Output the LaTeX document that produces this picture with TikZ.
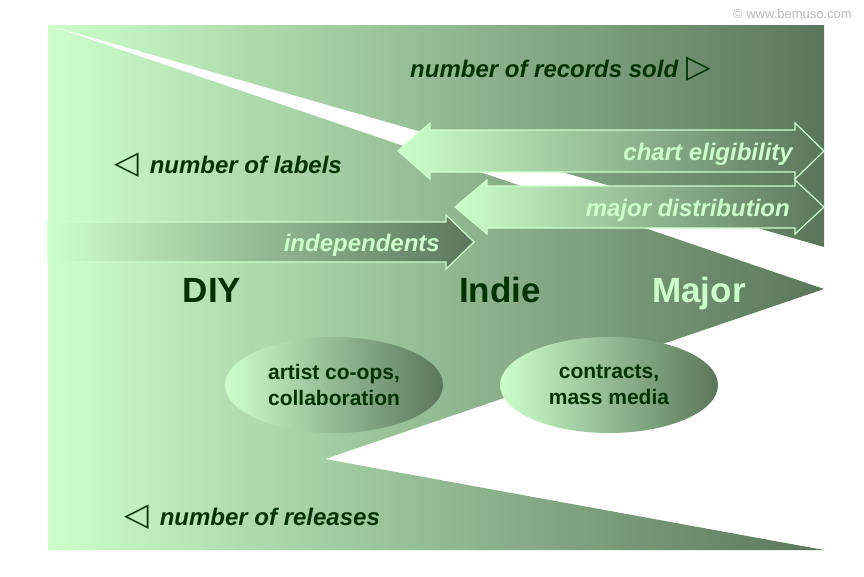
\documentclass[tikz,border=0pt]{standalone}
\usepackage{fontspec}
\setmainfont{Liberation Sans}
\newfontfamily\symfont{DejaVu Sans}
\usetikzlibrary{shapes.geometric}
\definecolor{leafLight}{RGB}{204,255,204}
\definecolor{leafDark}{RGB}{90,118,90}
\definecolor{inkGreen}{RGB}{0,51,0}
\definecolor{markGrey}{RGB}{185,185,185}
\newcommand{\pointer}[1]{{\normalfont\symfont\fontsize{32}{32}\selectfont#1}}
\begin{document}
\begin{tikzpicture}[x=1pt,y=-1pt,
    greenfade/.style={left color=leafLight,right color=leafDark},
    outlined/.style={greenfade,draw=leafLight,line width=1.2pt},
    darklabel/.style={inner sep=0pt,text=inkGreen,font=\bfseries\itshape\fontsize{24}{28}\selectfont},
    palelabel/.style={inner sep=0pt,text=leafLight,font=\bfseries\itshape\fontsize{24}{28}\selectfont},
    sectorlabel/.style={inner sep=0pt,anchor=base,text=inkGreen,font=\bfseries\fontsize{35}{40}\selectfont},
    podnode/.style={greenfade,ellipse,minimum width=218pt,minimum height=96pt,inner sep=0pt,
      align=center,text=inkGreen,font=\bfseries\fontsize{21}{26}\selectfont}]
    \useasboundingbox (0,0) rectangle (864,576);
    \shade[greenfade] (48,25) -- (824,25) -- (824,247) -- cycle;
    \shade[greenfade] (48,25) -- (824,289) -- (325,459) -- (824,550) -- (48,550) -- cycle;
    \path[outlined] (48,222) -- (446,222) -- (446,215) -- (474,242)
          -- (446,269) -- (446,262) -- (48,262) -- cycle;
    \path[outlined] (398,151) -- (430,123) -- (430,130) -- (795,130) -- (795,123) -- (824,151)
          -- (795,179) -- (795,172) -- (430,172) -- (430,179) -- cycle;
    \path[outlined] (455,207) -- (487,180) -- (487,186) -- (795,186) -- (795,180) -- (824,207)
          -- (795,234) -- (795,228) -- (487,228) -- (487,234) -- cycle;
    \node[darklabel,anchor=base west] (sold) at (410,77) {number of records sold\hspace{8pt}\pointer{▷}};
    \node[darklabel,anchor=base west] (labels) at (114,173) {\pointer{◁}\hspace{11pt}number of labels};
    \node[darklabel,anchor=base west] (releases) at (124,525) {\pointer{◁}\hspace{11pt}number of releases};
    \node[palelabel,anchor=base east] (indep) at (440,251) {independents};
    \node[palelabel,anchor=base east] (chart) at (793,160) {chart eligibility};
    \node[palelabel,anchor=base east] (distrib) at (790,216) {major distribution};
    \node[sectorlabel] (diy) at (212,302) {DIY};
    \node[sectorlabel] (indie) at (500,302) {Indie};
    \node[sectorlabel,text=leafLight] (major) at (699,302) {Major};
    \node[podnode] (coops) at (334,385) {artist co-ops,\\collaboration};
    \node[podnode] (deals) at (609,385) {contracts,\\mass media};
    \node[inner sep=0pt,anchor=base east,text=markGrey,font=\fontsize{13}{15}\selectfont] (credit) at (852,18) {© www.bemuso.com};
\end{tikzpicture}
\end{document}
